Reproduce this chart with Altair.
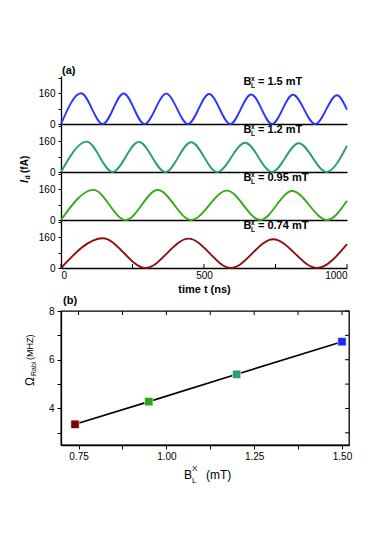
import altair as alt
import pandas as pd

FONT = "Liberation Sans"

# ---- panel (a): Rabi oscillations, extrema ----
t_15 = [0, 70, 146, 219, 292, 368, 444, 518, 592, 665, 738, 811, 889, 965, 1000]
i_15 = [0, 160, 0, 159, 0, 158, 0, 156, 0, 154, 0, 152, 0, 150, 75]
t_12 = [0, 90, 180, 272, 365, 455, 546, 644, 738, 831, 928, 1000]
i_12 = [0, 158, 0, 157, 0, 155, 0, 152, 0, 150, 0, 137]
t_095 = [0, 113, 226, 338, 455, 580, 697, 808, 930, 1000]
i_095 = [0, 157, 0, 156, 0, 153, 0, 151, 0, 100]
t_074 = [0, 146, 295, 446, 594, 742, 895, 1000]
i_074 = [0, 155, 0, 153, 0, 150, 0, 124]

field_labels = ["1.5", "1.2", "0.95", "0.74"]
line_colors = ["#2a35ff", "#2a9d78", "#33aa1a", "#8c1010"]
label_t = [638]

top_x_ticks = [0, 250, 500, 750, 1000]
top_y_ticks = [0, 80, 160, 240]

# ---- panel (b): Rabi frequency vs field ----
b_field = [0.74, 0.95, 1.20, 1.50]
rabi = [3.35, 4.28, 5.40, 6.74]
marker_colors = ["#7d0000", "#2aa814", "#2a9d7f", "#1428ff"]
b_x_ticks = [0.75, 0.875, 1.0, 1.125, 1.25, 1.375, 1.5]
b_y_ticks = [3, 4, 5, 6, 7, 8]

W_TOP, H_TOP = 286, 48
W_B, H_B = 288, 134
GAP = 43


def panel(ts, vals, color, lab, idx):
    last = idx == 3
    df = pd.DataFrame({"t": ts, "I": vals})
    if last:
        xaxis = alt.Axis(values=top_x_ticks, format="d",
                         labelExpr="datum.value % 500 == 0 ? datum.label : ''",
                         ticks=False, labelPadding=2, labelFontSize=10,
                         labelColor="black", title="time t (ns)",
                         titleFontWeight="bold", titleFontSize=11,
                         titleColor="black", titlePadding=3, grid=False,
                         domainColor="black", domainWidth=1.3)
    else:
        xaxis = alt.Axis(labels=False, ticks=False, title=None, grid=False,
                         domainColor="black", domainWidth=1.3)
    x = alt.X("t:Q", scale=alt.Scale(domain=[0, 1000], nice=False), axis=xaxis)
    y = alt.Y("I:Q", scale=alt.Scale(domain=[0, 250], nice=False),
              axis=alt.Axis(values=top_y_ticks,
                            labelExpr="datum.value % 160 == 0 ? datum.label : ''",
                            tickSize=3, tickColor="black", labelPadding=3,
                            labelFontSize=10, labelColor="black", title=None,
                            grid=False, domainColor="black", domainWidth=1.3))
    layers = [alt.Chart(df).mark_line(color=color, strokeWidth=1.9,
                                      interpolate="monotone").encode(x=x, y=y)]

    ldf = pd.DataFrame({"t": label_t, "B": ["B"], "sup": ["x"], "sub": ["L"],
                        "rest": [f"= {lab} mT"]})
    base = alt.Chart(ldf)
    common = dict(align="left", baseline="middle", fontWeight="bold",
                  font=FONT, color="black")
    yv = alt.value(6)
    layers += [
        base.mark_text(fontSize=11, **common).encode(x="t:Q", y=yv, text="B:N"),
        base.mark_text(fontSize=6.5, dx=7.5, dy=-3, **common).encode(x="t:Q", y=yv, text="sup:N"),
        base.mark_text(fontSize=6.5, dx=7.5, dy=3.5, **common).encode(x="t:Q", y=yv, text="sub:N"),
        base.mark_text(fontSize=11, dx=14.5, **common).encode(x="t:Q", y=yv, text="rest:N"),
    ]
    if idx == 0:
        adf = pd.DataFrame({"s": ["(a)"]})
        layers.append(alt.Chart(adf).mark_text(fontSize=11, **common).encode(
            x=alt.value(1), y=alt.value(-5), text="s:N"))
    if idx == 1:
        tdf = pd.DataFrame({"a": ["I"], "b": ["d"], "c": ["(fA)"]})
        rc = dict(align="left", baseline="middle", fontWeight="bold", font=FONT,
                  color="black", angle=270)
        tb = alt.Chart(tdf)
        layers += [
            tb.mark_text(fontSize=11, fontStyle="italic", **rc).encode(
                x=alt.value(-36), y=alt.value(59), text="a:N"),
            tb.mark_text(fontSize=7, dx=3.5, dy=3, **rc).encode(
                x=alt.value(-36), y=alt.value(59), text="b:N"),
            tb.mark_text(fontSize=10, dx=10, **rc).encode(
                x=alt.value(-36), y=alt.value(59), text="c:N"),
        ]
    if last:
        tk = pd.DataFrame({"t": top_x_ticks})
        layers.append(alt.Chart(tk).mark_rule(color="black", strokeWidth=1).encode(
            x=alt.X("t:Q", scale=alt.Scale(domain=[0, 1000], nice=False), axis=xaxis),
            y=alt.value(H_TOP), y2=alt.value(H_TOP - 4)))
    return alt.layer(*layers).properties(width=W_TOP, height=H_TOP)


panels = [panel(t, v, c, l, k) for k, (t, v, c, l) in enumerate(zip(
    [t_15, t_12, t_095, t_074], [i_15, i_12, i_095, i_074], line_colors, field_labels))]

# empty spacer between the two figure parts
spacer = alt.Chart(pd.DataFrame({"a": [0]})).mark_point(opacity=0).encode(
    x=alt.value(0), y=alt.value(0)).properties(width=W_TOP, height=GAP)

# ---- bottom chart ----
dfb = pd.DataFrame({"B": b_field, "W": rabi, "c": marker_colors})
xscale_b = alt.Scale(domain=[0.7, 1.52], nice=False, zero=False)
yscale_b = alt.Scale(domain=[2.5, 8], nice=False, zero=False)
xaxis_b = alt.Axis(values=b_x_ticks, format=".2f",
                   labelExpr="abs(datum.value*4 - round(datum.value*4)) < 0.001 ? datum.label : ''",
                   tickSize=4, tickColor="black", labelPadding=2,
                   labelFontSize=10, labelColor="black", title=None,
                   grid=False, domainColor="black", domainWidth=1.3)
yaxis_b = alt.Axis(values=b_y_ticks, orient="left",
                   labelExpr="(datum.value == 4 || datum.value == 6 || datum.value == 8) ? datum.label : ''",
                   tickSize=4, tickColor="black", labelPadding=3,
                   labelFontSize=10, labelColor="black", title=None,
                   grid=False, domainColor="black", domainWidth=1.3)
xb = alt.X("B:Q", scale=xscale_b, axis=xaxis_b)
yb = alt.Y("W:Q", scale=yscale_b, axis=yaxis_b)

line_b = alt.Chart(dfb).mark_line(color="black", strokeWidth=1.6).encode(x=xb, y=yb)
pts_b = alt.Chart(dfb).mark_square(size=70, opacity=1, stroke="white",
                                   strokeWidth=0.6).encode(
    x=xb, y=yb, color=alt.Color("c:N", scale=None))
top_ticks = alt.Chart(pd.DataFrame({"B": b_x_ticks})).mark_rule(
    color="black", strokeWidth=1).encode(x=xb, y=alt.value(0), y2=alt.value(4))
right_ticks = alt.Chart(pd.DataFrame({"W": b_y_ticks})).mark_rule(
    color="black", strokeWidth=1).encode(y=yb, x=alt.value(W_B), x2=alt.value(W_B - 4))

lab_df = pd.DataFrame({"p": ["(b)"], "B": ["B"], "X": ["X"], "L": ["L"],
                       "u": ["(mT)"], "O": ["Ω"], "R": ["Rabi"], "M": ["(MHZ)"]})
lb = alt.Chart(lab_df)
bl = dict(align="left", baseline="middle", font=FONT, color="black")
b_label = lb.mark_text(fontSize=11, fontWeight="bold", **bl).encode(
    x=alt.value(2), y=alt.value(-10), text="p:N")
xt = [
    lb.mark_text(fontSize=12, **bl).encode(x=alt.value(123), y=alt.value(164), text="B:N"),
    lb.mark_text(fontSize=8, dx=8, dy=-6, **bl).encode(x=alt.value(123), y=alt.value(164), text="X:N"),
    lb.mark_text(fontSize=8, dx=8, dy=6, **bl).encode(x=alt.value(123), y=alt.value(164), text="L:N"),
    lb.mark_text(fontSize=12, dx=22, **bl).encode(x=alt.value(123), y=alt.value(164), text="u:N"),
]
rb = dict(bl, angle=270)
yt = [
    lb.mark_text(fontSize=12, **rb).encode(x=alt.value(-31), y=alt.value(75), text="O:N"),
    lb.mark_text(fontSize=7, dx=10, dy=4, **rb).encode(x=alt.value(-31), y=alt.value(75), text="R:N"),
    lb.mark_text(fontSize=9, dx=26, **rb).encode(x=alt.value(-31), y=alt.value(75), text="M:N"),
]

bottom = alt.layer(line_b, pts_b, top_ticks, right_ticks, b_label, *xt, *yt).properties(
    width=W_B, height=H_B, view=alt.ViewBackground(stroke="black", strokeWidth=1.3))

chart = alt.vconcat(*panels, spacer, bottom, spacing=0, bounds="flush").properties(
    padding={"top": 56, "left": 10, "right": 10, "bottom": 10},
    background="white",
).configure(font=FONT).configure_view(stroke="transparent").configure_axis(
    labelFont=FONT, titleFont=FONT)

chart.save("out.html", embed_options={"renderer": "svg", "actions": False})
